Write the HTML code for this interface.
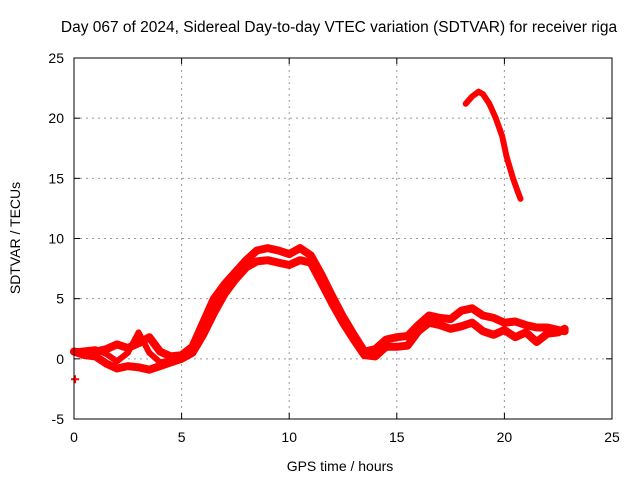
<!DOCTYPE html>
<html><head><meta charset="utf-8"><style>
body{margin:0;background:#fff}
svg{display:block;font-family:"Liberation Sans",sans-serif}
</style></head><body>
<svg id="chart" width="640" height="480">
<rect width="640" height="480" fill="#fff"/>
<text x="339" y="32" font-size="15.5" text-anchor="middle">Day 067 of 2024, Sidereal Day-to-day VTEC variation (SDTVAR) for receiver riga</text>
<text x="340" y="471" font-size="14" text-anchor="middle">GPS time / hours</text>
<text transform="translate(20,238) rotate(-90)" font-size="14" text-anchor="middle">SDTVAR / TECUs</text>
<g id="grid"></g><g id="series"></g>
<rect x="74" y="58" width="538" height="361" fill="none" stroke="#000" stroke-width="1"/>
</svg>
<script>
const xTicks=[0,5,10,15,20,25];
const yTicks=[-5,0,5,10,15,20,25];
const hoursA=[0,0.5,1,1.5,2,2.5,3,3.5,4,4.5,5,5.5,6,6.5,7,7.5,8,8.5,9,9.5,10,10.5,11,11.5,12,12.5,13,13.5,14,14.5,15,15.5,16,16.5,17,17.5,18,18.5,19,19.5,20,20.5,21,21.5,22,22.5,22.8];
const trackA=[0.6,0.5,0.6,0.8,1.2,0.9,1.3,1.8,0.6,0.2,0.3,1,3,5,6.2,7.2,8.2,9,9.2,9,8.7,9.2,8.6,7,5.2,3.5,2,0.6,0.8,1.6,1.8,1.9,2.8,3.6,3.4,3.3,4,4.2,3.6,3.4,3.0,3.1,2.8,2.6,2.6,2.4,2.3];
const trackB=[0.6,0.3,0.2,-0.4,-0.8,-0.6,-0.7,-0.9,-0.6,-0.3,0,0.5,2,3.8,5.4,6.6,7.6,8.1,8.2,8,7.8,8.2,8,6.3,4.6,3,1.6,0.3,0.2,1,1,1.1,2.3,3,2.8,2.5,2.7,3,2.3,2.0,2.4,1.8,2.2,1.4,2.1,2.2,2.5];
const hoursC=[0,0.5,1,1.5,2,2.5,3,3.5,4,4.5,5,5.5];
const trackC=[0.6,0.7,0.8,0.4,-0.2,0.5,2.2,0.5,-0.3,-0.1,0.1,0.6];
const hoursD=[18.2,18.5,18.8,19,19.3,19.6,19.9,20.1,20.4,20.6,20.75];
const trackD=[21.2,21.8,22.2,22,21.2,20,18.5,16.8,15,14,13.3];
const outlierH=[0.05], outlierV=[-1.7];
const NS='http://www.w3.org/2000/svg';
const X0=74,X1=612,Y0=419,Y1=58;
function xs(h){return X0+(h-0)/(25-0)*(X1-X0);}
function ys(v){return Y0-(v+5)/(30)*(Y0-Y1);}
const grid=document.getElementById('grid'),ser=document.getElementById('series');
function mk(t,a,p){const e=document.createElementNS(NS,t);for(const k in a)e.setAttribute(k,a[k]);(p||grid).appendChild(e);return e;}
xTicks.forEach(t=>{const x=xs(t);
 if(t>0&&t<25){const l=mk('line',{x1:x,x2:x,y1:Y1,y2:Y0,stroke:'#999','stroke-dasharray':'2,4'});}
 mk('line',{x1:x,x2:x,y1:Y0,y2:Y0-6,stroke:'#000'});mk('line',{x1:x,x2:x,y1:Y1,y2:Y1+6,stroke:'#000'});
 const tx=mk('text',{x:x,y:442,'font-size':14,'text-anchor':'middle'});tx.textContent=t;
 });
yTicks.forEach(t=>{const y=ys(t);
 if(t>-5&&t<25){const l=mk('line',{x1:X0,x2:X1,y1:y,y2:y,stroke:'#999','stroke-dasharray':'2,4'});}
 mk('line',{x1:X0,x2:X0+6,y1:y,y2:y,stroke:'#000'});mk('line',{x1:X1,x2:X1-6,y1:y,y2:y,stroke:'#000'});
 const tx=mk('text',{x:64,y:y+5,'font-size':14,'text-anchor':'end'});tx.textContent=t;
 });
function track(h,v,name,w){
 const pts=h.map((hh,i)=>xs(hh).toFixed(1)+','+ys(v[i]).toFixed(1)).join(' ');
 const p=mk('polyline',{points:pts,fill:'none',stroke:'#f00','stroke-width':w,'stroke-linejoin':'round','stroke-linecap':'round'},ser);
 }
track(hoursA,trackA,'sdtvar-track-upper',8);
track(hoursA,trackB,'sdtvar-track-lower',8);
track(hoursC,trackC,'sdtvar-track-middle',6);
track(hoursD,trackD,'sdtvar-track-late',6);
outlierH.forEach((h,i)=>{const x=xs(h),y=ys(outlierV[i]);
 const g=mk('path',{d:`M${x-4},${y}H${x+4}M${x},${y-4}V${y+4}`,stroke:'#f00','stroke-width':2},ser);
 });
</script>
</body></html>
